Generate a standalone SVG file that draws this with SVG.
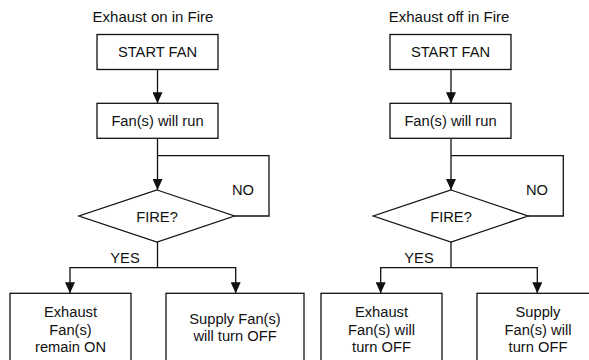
<svg xmlns="http://www.w3.org/2000/svg" width="589" height="360" viewBox="0 0 589 360">
<defs>
<style>
text{font-family:"Liberation Sans",Arial,Helvetica,sans-serif;font-size:14.7px;fill:#111;text-anchor:middle}
.box{fill:#fff;stroke:#111;stroke-width:1.3}
.ln{fill:none;stroke:#111;stroke-width:1.3}
</style>
<marker id="ah" viewBox="0 0 11 10" markerWidth="11" markerHeight="10" refX="11" refY="5" orient="auto" markerUnits="userSpaceOnUse">
<path d="M0,0 L11,5 L0,10 Z" fill="#111"/>
</marker>
</defs>
<rect width="589" height="360" fill="#fff"/>

<text x="153" y="22" style="font-size:15px">Exhaust on in Fire</text>
<text x="449" y="22" style="font-size:15px">Exhaust off in Fire</text>

<g id="connectors">
<!-- left chart -->
<path class="ln" d="M157.5,69.5 V103.3" marker-end="url(#ah)"/>
<path class="ln" d="M157.5,138.3 V190" marker-end="url(#ah)"/>
<path class="ln" d="M234.5,216 H269 V155.7 H157.5"/>
<path class="ln" d="M157.5,242 V267.7 H70 V293.3" marker-end="url(#ah)"/>
<path class="ln" d="M157.5,267.7 H235.7 V293.3" marker-end="url(#ah)"/>
<!-- right chart -->
<path class="ln" d="M451,69.5 V103.3" marker-end="url(#ah)"/>
<path class="ln" d="M451,138.3 V190" marker-end="url(#ah)"/>
<path class="ln" d="M528,216 H563.3 V155.7 H451"/>
<path class="ln" d="M451,242 V267.7 H380.7 V293.3" marker-end="url(#ah)"/>
<path class="ln" d="M451,267.7 H537.3 V293.3" marker-end="url(#ah)"/>
<text x="243" y="195">NO</text>
<text x="125" y="263">YES</text>
<text x="537" y="195">NO</text>
<text x="419" y="263">YES</text>
</g>

<g id="L-start">
<rect class="box" x="97" y="34.5" width="121" height="35"/>
<text x="157.5" y="57">START FAN</text>
</g>
<g id="L-run">
<rect class="box" x="97" y="103.3" width="121" height="35"/>
<text x="157.5" y="126">Fan(s) will run</text>
</g>
<g id="L-fire">
<polygon class="box" points="157,190 234.5,216 157,242 79,216"/>
<text x="157" y="221.5">FIRE?</text>
</g>
<g id="L-exhaust">
<rect class="box" x="10" y="293.3" width="121" height="80"/>
<text x="70.5" y="317">Exhaust</text>
<text x="70.5" y="334.5">Fan(s)</text>
<text x="70.5" y="352">remain ON</text>
</g>
<g id="L-supply">
<rect class="box" x="166" y="293.3" width="138" height="80"/>
<text x="235" y="324">Supply Fan(s)</text>
<text x="235" y="341">will turn OFF</text>
</g>

<g id="R-start">
<rect class="box" x="390" y="34.5" width="121" height="35"/>
<text x="450.5" y="57">START FAN</text>
</g>
<g id="R-run">
<rect class="box" x="390" y="103.3" width="121" height="35"/>
<text x="450.5" y="126">Fan(s) will run</text>
</g>
<g id="R-fire">
<polygon class="box" points="451,190 528,216 451,242 373.3,216"/>
<text x="451" y="221.5">FIRE?</text>
</g>
<g id="R-exhaust">
<rect class="box" x="321" y="293.3" width="121" height="80"/>
<text x="381.5" y="317">Exhaust</text>
<text x="381.5" y="334.5">Fan(s) will</text>
<text x="381.5" y="352">turn OFF</text>
</g>
<g id="R-supply">
<rect class="box" x="477" y="293.3" width="122" height="80"/>
<text x="538" y="317">Supply</text>
<text x="538" y="334.5">Fan(s) will</text>
<text x="538" y="352">turn OFF</text>
</g>
</svg>
